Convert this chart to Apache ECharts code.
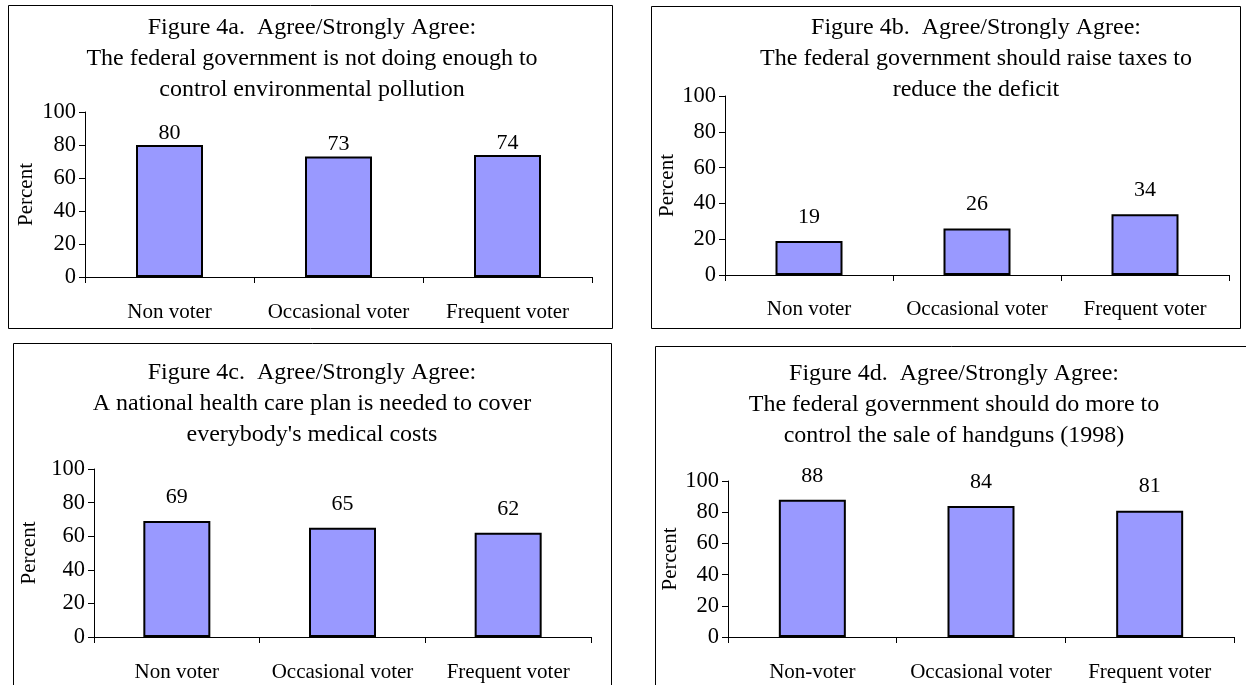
<!DOCTYPE html>
<html>
<head>
<meta charset="utf-8">
<style>
  html, body { margin: 0; padding: 0; background: #fff; }
  #chart { width: 1246px; height: 685px; }
</style>
<script src="https://cdn.jsdelivr.net/npm/echarts@6/dist/echarts.min.js"></script>
</head>
<body>
<div id="chart"></div>
<script>
// Voter groups shown on each panel
const categories = ['Non voter', 'Occasional voter', 'Frequent voter'];
const categoriesHandguns = ['Non-voter', 'Occasional voter', 'Frequent voter'];

// Percent agreeing / strongly agreeing
const pollutionValues = [80, 73, 74];
const taxesValues = [19, 26, 34];
const healthValues = [69, 65, 62];
const handgunValues = [88, 84, 81];

// Panel headings
const pollutionTitle = ['Figure 4a.  Agree/Strongly Agree:', 'The federal government is not doing enough to', 'control environmental pollution'];
const taxesTitle = ['Figure 4b.  Agree/Strongly Agree:', 'The federal government should raise taxes to', 'reduce the deficit'];
const healthTitle = ['Figure 4c.  Agree/Strongly Agree:', "A national health care plan is needed to cover", "everybody's medical costs"];
const handgunTitle = ['Figure 4d.  Agree/Strongly Agree:', 'The federal government should do more to', 'control the sale of handguns (1998)'];

const yAxisName = 'Percent';
const FONT = '"Liberation Serif", "Times New Roman", serif';

// Layout of the four panels (frame, plot area, heading, label offsets)
const panels = [
  { cats: categories, values: pollutionValues, title: pollutionTitle,
    frame: [8, 5, 604, 323], grid: { left: 85, top: 112, width: 507, height: 165 },
    titleX: 312, titleY: 12, nameGap: 48, labelDist: 1, catMargin: 25 },
  { cats: categories, values: taxesValues, title: taxesTitle,
    frame: [651, 6, 589, 322], grid: { left: 725, top: 96, width: 504, height: 179 },
    titleX: 976, titleY: 12, nameGap: 45, labelDist: 13, catMargin: 24 },
  { cats: categories, values: healthValues, title: healthTitle,
    frame: [13, 343, 598, 400], grid: { left: 94, top: 469, width: 497, height: 168 },
    titleX: 312, titleY: 357, nameGap: 54, labelDist: 13, catMargin: 25 },
  { cats: categoriesHandguns, values: handgunValues, title: handgunTitle,
    frame: [655, 346, 640, 400], grid: { left: 728, top: 481, width: 506, height: 156 },
    titleX: 954, titleY: 358, nameGap: 44, labelDist: 13, catMargin: 25 }
];

const textStyle = { fontFamily: FONT, color: '#000' };

const option = {
  animation: false,
  backgroundColor: '#fff',
  grid: panels.map(p => p.grid),
  xAxis: panels.map((p, i) => ({
    type: 'category',
    gridIndex: i,
    data: p.cats,
    axisLine: { lineStyle: { color: '#000', width: 1 } },
    axisTick: { show: true, length: 6, lineStyle: { color: '#000' } },
    axisLabel: { ...textStyle, fontSize: 21, margin: p.catMargin, interval: 0 }
  })),
  yAxis: panels.map((p, i) => ({
    type: 'value',
    gridIndex: i,
    min: 0, max: 100, interval: 20,
    name: yAxisName,
    nameLocation: 'middle',
    nameGap: p.nameGap,
    nameRotate: 90,
    nameTextStyle: { ...textStyle, fontSize: 21 },
    axisLine: { show: true, lineStyle: { color: '#000', width: 1 } },
    axisTick: { show: true, length: 6, lineStyle: { color: '#000' } },
    axisLabel: { ...textStyle, fontSize: 22.5, margin: 9 },
    splitLine: { show: false }
  })),
  series: panels.map((p, i) => ({
    type: 'bar',
    xAxisIndex: i,
    yAxisIndex: i,
    data: p.values,
    barWidth: 67,
    itemStyle: { color: '#9999ff', borderColor: '#000', borderWidth: 2 },
    label: { show: true, position: 'top', distance: p.labelDist, ...textStyle, fontSize: 22 }
  })),
  graphic: panels.flatMap(p => [
    { type: 'rect', shape: { x: p.frame[0] + 0.5, y: p.frame[1] + 0.5, width: p.frame[2], height: p.frame[3] },
      style: { fill: 'none', stroke: '#000', lineWidth: 1 }, z: 0 },
    { type: 'text', x: p.titleX, y: p.titleY,
      style: { text: p.title.join('\n'), fontFamily: FONT, fontSize: 24, lineHeight: 31,
               fill: '#000', align: 'center', verticalAlign: 'top' } }
  ])
};

const chart = echarts.init(document.getElementById('chart'), null, { renderer: 'canvas' });
chart.setOption(option);
</script>
</body>
</html>
